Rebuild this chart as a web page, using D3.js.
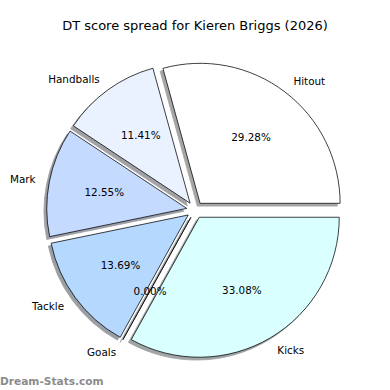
<!DOCTYPE html>
<html>
<head>
<meta charset="utf-8">
<script src="https://cdn.jsdelivr.net/npm/d3@7"></script>
<style>
  body { margin: 0; background: #fff; }
  svg { display: block; font-family: "DejaVu Sans", sans-serif; }
</style>
</head>
<body>
<script>
const labels = ["Hitout", "Handballs", "Mark", "Tackle", "Goals", "Kicks"];
const values = [29.28, 11.41, 12.55, 13.69, 0.00, 33.08];
const colors = ["#ffffff", "#eaf1ff", "#c5daff", "#b5d8ff", "#d0e8ff", "#d9ffff"];
const title = "DT score spread for Kieren Briggs (2026)";

const width = 390, height = 390;
const cx = 195, cy = 210, radius = 140;
const explode = 0.06 * radius;
const shadowOff = 0.02 * radius;

const svg = d3.select("body").append("svg")
  .attr("width", width)
  .attr("height", height);

// matplotlib style: start at east, go counterclockwise
const pie = d3.pie().sort(null)
  .startAngle(Math.PI / 2)
  .endAngle(Math.PI / 2 - 2 * Math.PI)
  .value(d => d.value);

const arcs = pie(labels.map((l, i) => ({ label: l, value: values[i], color: colors[i] })));
const arc = d3.arc().innerRadius(0).outerRadius(radius);

const mid = d => (d.startAngle + d.endAngle) / 2;
const offset = (d, dist) => [Math.sin(mid(d)) * dist, -Math.cos(mid(d)) * dist];
const shade = d => {
  const c = d3.rgb(d.data.color);
  return d3.rgb(c.r * 0.3, c.g * 0.3, c.b * 0.3);
};

const g = svg.append("g").attr("transform", `translate(${cx},${cy})`);

// shadows first so they sit beneath all wedges
g.selectAll("path.shadow")
  .data(arcs)
  .join("path")
  .attr("class", "shadow")
  .attr("d", arc)
  .attr("transform", d => {
    const [x, y] = offset(d, explode);
    return `translate(${x - shadowOff},${y + shadowOff})`;
  })
  .attr("fill", shade)
  .attr("stroke", shade)
  .attr("stroke-width", 0.8)
  .attr("opacity", 0.5);

g.selectAll("path.wedge")
  .data(arcs)
  .join("path")
  .attr("class", "wedge")
  .attr("d", arc)
  .attr("transform", d => {
    const [x, y] = offset(d, explode);
    return `translate(${x},${y})`;
  })
  .attr("fill", d => d.data.color)
  .attr("stroke", "#000")
  .attr("stroke-width", 0.75)
  .attr("stroke-linejoin", "round");

// outer labels
g.selectAll("text.label")
  .data(arcs)
  .join("text")
  .attr("class", "label")
  .attr("x", d => offset(d, radius * 1.1 + explode)[0])
  .attr("y", d => offset(d, radius * 1.1 + explode)[1])
  .attr("text-anchor", d => offset(d, 1)[0] > 0 ? "start" : "end")
  .attr("dominant-baseline", "central")
  .attr("font-size", 10.4)
  .attr("fill", "#000")
  .text(d => d.data.label);

// percentages
g.selectAll("text.pct")
  .data(arcs)
  .join("text")
  .attr("class", "pct")
  .attr("x", d => offset(d, radius * 0.6 + explode)[0])
  .attr("y", d => offset(d, radius * 0.6 + explode)[1])
  .attr("text-anchor", "middle")
  .attr("dominant-baseline", "central")
  .attr("font-size", 10.4)
  .attr("fill", "#000")
  .text(d => d3.format(".2f")(d.data.value) + "%");

svg.append("text")
  .attr("x", width / 2)
  .attr("y", 30)
  .attr("text-anchor", "middle")
  .attr("font-size", 13)
  .attr("fill", "#000")
  .text(title);

svg.append("text")
  .attr("x", 0)
  .attr("y", 385)
  .attr("font-size", 10.6)
  .attr("font-weight", "bold")
  .attr("fill", "#8c8c8c")
  .text("Dream-Stats.com");
</script>
</body>
</html>
